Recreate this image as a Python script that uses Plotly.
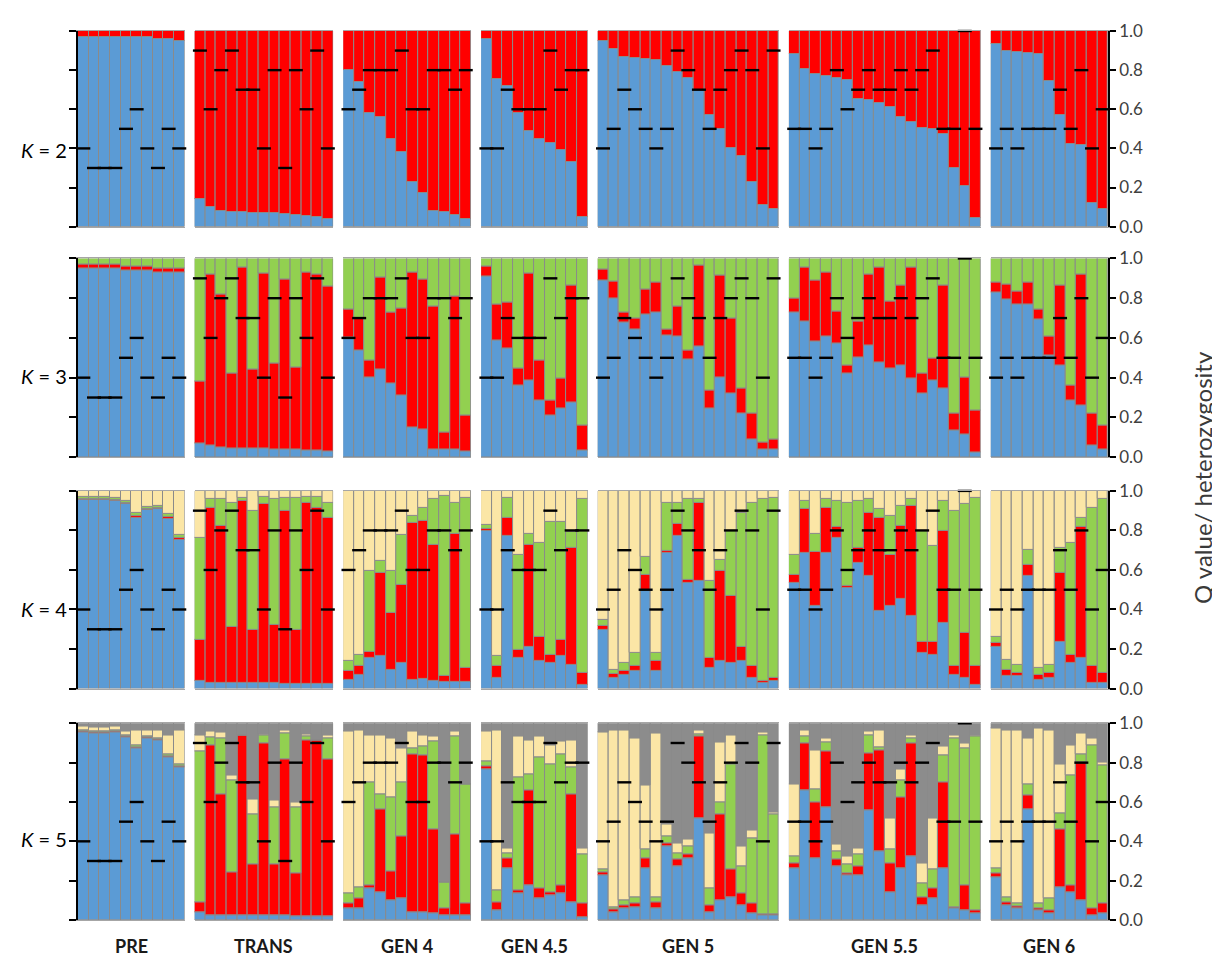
import plotly.graph_objects as go

# ---------------- data ----------------
groups = ["PRE", "TRANS", "GEN 4", "GEN 4.5", "GEN 5", "GEN 5.5", "GEN 6"]
sizes = [10, 13, 12, 10, 17, 18, 11]
k_labels = ["2", "3", "4", "5"]

# heterozygosity of each individual (black dashes)
het = [
    0.4, 0.3, 0.3, 0.3, 0.5, 0.6, 0.4, 0.3, 0.5, 0.4,
    0.9, 0.6, 0.8, 0.9, 0.7, 0.7, 0.4, 0.8, 0.3, 0.8, 0.6, 0.9, 0.4,
    0.6, 0.7, 0.8, 0.8, 0.8, 0.9, 0.6, 0.6, 0.8, 0.8, 0.7, 0.8,
    0.4, 0.4, 0.7, 0.6, 0.6, 0.6, 0.9, 0.7, 0.8, 0.8,
    0.4, 0.5, 0.7, 0.6, 0.5, 0.4, 0.5, 0.9, 0.8, 0.7, 0.5, 0.7, 0.8, 0.9, 0.8, 0.4, 0.9,
    0.5, 0.5, 0.4, 0.5, 0.8, 0.6, 0.7, 0.8, 0.7, 0.7, 0.8, 0.7, 0.8, 0.9, 0.5, 0.5, 1.0, 0.5,
    0.4, 0.5, 0.4, 0.5, 0.5, 0.5, 0.7, 0.5, 0.8, 0.4, 0.6,
]

# cumulative Q tops, clusters stacked bottom->top
# K = 2 : blue | red
k2_blue = [
    0.97, 0.97, 0.97, 0.97, 0.97, 0.97, 0.97, 0.96, 0.96, 0.95,
    0.14, 0.10, 0.08, 0.075, 0.075, 0.07, 0.07, 0.07, 0.065, 0.06, 0.055, 0.05, 0.04,
    0.80, 0.74, 0.58, 0.56, 0.45, 0.38, 0.23, 0.17, 0.08, 0.075, 0.06, 0.04,
    0.96, 0.755, 0.72, 0.58, 0.49, 0.45, 0.43, 0.39, 0.33, 0.05,
    0.95, 0.91, 0.865, 0.86, 0.855, 0.85, 0.82, 0.79, 0.76, 0.695, 0.57, 0.50, 0.40, 0.36, 0.23, 0.11, 0.09,
    0.88, 0.805, 0.78, 0.77, 0.76, 0.75, 0.65, 0.645, 0.63, 0.61, 0.56, 0.535, 0.505, 0.50, 0.475, 0.30, 0.21, 0.045,
    0.935, 0.90, 0.895, 0.89, 0.88, 0.745, 0.57, 0.425, 0.415, 0.12, 0.09,
]

# K = 3 : blue | red | green
k3_blue = [
    0.95, 0.95, 0.95, 0.95, 0.94, 0.94, 0.94, 0.93, 0.93, 0.93,
    0.07, 0.06, 0.05, 0.045, 0.045, 0.045, 0.045, 0.04, 0.04, 0.04, 0.035, 0.035, 0.03,
    0.60, 0.535, 0.40, 0.44, 0.37, 0.31, 0.15, 0.14, 0.04, 0.04, 0.04, 0.03,
    0.91, 0.585, 0.545, 0.36, 0.385, 0.285, 0.21, 0.245, 0.275, 0.035,
    0.89, 0.80, 0.68, 0.645, 0.72, 0.73, 0.61, 0.605, 0.49, 0.555, 0.245, 0.40, 0.32, 0.22, 0.09, 0.04, 0.04,
    0.73, 0.685, 0.58, 0.605, 0.57, 0.42, 0.50, 0.56, 0.475, 0.445, 0.46, 0.395, 0.32, 0.385, 0.345, 0.135, 0.115, 0.025,
    0.83, 0.795, 0.77, 0.77, 0.695, 0.51, 0.46, 0.285, 0.26, 0.06, 0.04,
]
k3_red = [
    0.97, 0.97, 0.97, 0.97, 0.96, 0.96, 0.96, 0.95, 0.95, 0.95,
    0.38, 0.92, 0.82, 0.42, 0.955, 0.44, 0.925, 0.47, 0.895, 0.45, 0.93, 0.92, 0.86,
    0.745, 0.70, 0.485, 0.905, 0.73, 0.75, 0.93, 0.895, 0.76, 0.125, 0.81, 0.21,
    0.96, 0.77, 0.78, 0.445, 0.925, 0.485, 0.285, 0.395, 0.865, 0.16,
    0.945, 0.885, 0.73, 0.70, 0.845, 0.88, 0.645, 0.76, 0.535, 0.965, 0.335, 0.915, 0.70, 0.345, 0.22, 0.075, 0.09,
    0.80, 0.955, 0.89, 0.93, 0.735, 0.46, 0.685, 0.92, 0.955, 0.785, 0.865, 0.955, 0.42, 0.495, 0.865, 0.22, 0.40, 0.235,
    0.88, 0.87, 0.835, 0.88, 0.745, 0.605, 0.865, 0.36, 0.92, 0.22, 0.16,
]

# K = 4 : blue | red | green | cream
k4_blue = [
    0.955, 0.955, 0.955, 0.95, 0.935, 0.865, 0.905, 0.91, 0.86, 0.75,
    0.04, 0.03, 0.03, 0.03, 0.03, 0.03, 0.03, 0.03, 0.025, 0.025, 0.025, 0.025, 0.025,
    0.045, 0.07, 0.155, 0.165, 0.095, 0.13, 0.045, 0.05, 0.04, 0.035, 0.035, 0.035,
    0.80, 0.055, 0.77, 0.155, 0.21, 0.14, 0.13, 0.165, 0.12, 0.02,
    0.295, 0.055, 0.07, 0.09, 0.495, 0.09, 0.685, 0.77, 0.535, 0.545, 0.105, 0.14, 0.13, 0.14, 0.055, 0.03, 0.04,
    0.535, 0.685, 0.42, 0.685, 0.76, 0.51, 0.635, 0.57, 0.395, 0.42, 0.455, 0.37, 0.18, 0.17, 0.33, 0.07, 0.055, 0.02,
    0.21, 0.065, 0.065, 0.57, 0.045, 0.055, 0.235, 0.13, 0.155, 0.03, 0.03,
]
k4_red = [
    0.96, 0.96, 0.96, 0.955, 0.94, 0.875, 0.91, 0.915, 0.87, 0.76,
    0.245, 0.915, 0.825, 0.31, 0.95, 0.295, 0.935, 0.32, 0.90, 0.295, 0.94, 0.915, 0.865,
    0.09, 0.115, 0.185, 0.585, 0.385, 0.525, 0.84, 0.85, 0.725, 0.065, 0.785, 0.105,
    0.81, 0.115, 0.865, 0.195, 0.725, 0.26, 0.17, 0.245, 0.71, 0.08,
    0.315, 0.075, 0.09, 0.115, 0.575, 0.14, 0.695, 0.835, 0.55, 0.94, 0.155, 0.595, 0.47, 0.21, 0.115, 0.04, 0.055,
    0.575, 0.91, 0.69, 0.915, 0.82, 0.52, 0.71, 0.89, 0.865, 0.675, 0.825, 0.925, 0.235, 0.235, 0.80, 0.115, 0.28, 0.115,
    0.23, 0.095, 0.08, 0.625, 0.07, 0.08, 0.585, 0.17, 0.82, 0.115, 0.08,
]
k4_green = [
    0.97, 0.97, 0.97, 0.965, 0.95, 0.89, 0.92, 0.925, 0.885, 0.775,
    0.76, 0.96, 0.96, 0.94, 0.965, 0.90, 0.97, 0.96, 0.965, 0.965, 0.97, 0.97, 0.94,
    0.14, 0.17, 0.595, 0.645, 0.595, 0.775, 0.875, 0.915, 0.96, 0.975, 0.94, 0.965,
    0.83, 0.165, 0.965, 0.675, 0.785, 0.735, 0.845, 0.845, 0.795, 0.96,
    0.345, 0.095, 0.13, 0.18, 0.665, 0.18, 0.94, 0.94, 0.96, 0.96, 0.545, 0.65, 0.80, 0.89, 0.94, 0.96, 0.965,
    0.675, 0.95, 0.785, 0.96, 0.95, 0.94, 0.95, 0.96, 0.91, 0.875, 0.925, 0.96, 0.80, 0.72, 0.95, 0.90, 0.935, 0.965,
    0.26, 0.145, 0.12, 0.70, 0.105, 0.12, 0.71, 0.735, 0.865, 0.915, 0.96,
]

# K = 5 : blue | red | green | cream | grey
k5_blue = [
    0.955, 0.95, 0.95, 0.955, 0.93, 0.875, 0.925, 0.915, 0.825, 0.775,
    0.04, 0.025, 0.025, 0.025, 0.025, 0.025, 0.025, 0.025, 0.025, 0.02, 0.02, 0.02, 0.02,
    0.06, 0.06, 0.16, 0.14, 0.10, 0.11, 0.04, 0.04, 0.035, 0.025, 0.025, 0.025,
    0.765, 0.05, 0.265, 0.135, 0.175, 0.11, 0.125, 0.135, 0.09, 0.015,
    0.225, 0.04, 0.06, 0.065, 0.265, 0.06, 0.375, 0.275, 0.315, 0.515, 0.04, 0.10, 0.115, 0.075, 0.035, 0.025, 0.025,
    0.265, 0.66, 0.315, 0.575, 0.275, 0.225, 0.225, 0.56, 0.35, 0.14, 0.265, 0.325, 0.075, 0.11, 0.265, 0.06, 0.05, 0.035,
    0.215, 0.075, 0.06, 0.565, 0.05, 0.035, 0.165, 0.14, 0.10, 0.025, 0.035,
]
k5_red = [
    0.96, 0.955, 0.955, 0.96, 0.935, 0.88, 0.93, 0.92, 0.83, 0.78,
    0.09, 0.89, 0.64, 0.24, 0.94, 0.285, 0.90, 0.285, 0.815, 0.235, 0.915, 0.915, 0.815,
    0.085, 0.11, 0.175, 0.565, 0.25, 0.425, 0.84, 0.835, 0.46, 0.06, 0.435, 0.085,
    0.78, 0.09, 0.315, 0.15, 0.66, 0.16, 0.14, 0.175, 0.64, 0.085,
    0.24, 0.055, 0.075, 0.085, 0.315, 0.09, 0.39, 0.31, 0.335, 0.935, 0.075, 0.535, 0.26, 0.135, 0.085, 0.03, 0.03,
    0.29, 0.90, 0.60, 0.86, 0.31, 0.235, 0.275, 0.85, 0.865, 0.29, 0.625, 0.90, 0.115, 0.16, 0.70, 0.065, 0.175, 0.05,
    0.235, 0.09, 0.07, 0.635, 0.06, 0.05, 0.46, 0.175, 0.80, 0.06, 0.085,
]
k5_green = [
    0.965, 0.96, 0.96, 0.965, 0.94, 0.89, 0.935, 0.925, 0.84, 0.79,
    0.86, 0.93, 0.925, 0.71, 0.94, 0.535, 0.94, 0.575, 0.95, 0.575, 0.935, 0.915, 0.925,
    0.135, 0.165, 0.70, 0.64, 0.625, 0.70, 0.875, 0.885, 0.91, 0.19, 0.935, 0.69,
    0.805, 0.15, 0.34, 0.725, 0.74, 0.825, 0.79, 0.84, 0.775, 0.335,
    0.26, 0.065, 0.10, 0.115, 0.36, 0.115, 0.425, 0.34, 0.375, 0.945, 0.16, 0.60, 0.79, 0.275, 0.415, 0.94, 0.535,
    0.325, 0.935, 0.665, 0.905, 0.35, 0.285, 0.335, 0.94, 0.88, 0.36, 0.71, 0.925, 0.185, 0.26, 0.835, 0.925, 0.875, 0.935,
    0.265, 0.115, 0.085, 0.69, 0.085, 0.11, 0.54, 0.735, 0.84, 0.89, 0.785,
]
k5_cream = [
    0.985, 0.98, 0.98, 0.985, 0.96, 0.965, 0.965, 0.965, 0.94, 0.965,
    0.94, 0.96, 0.955, 0.735, 0.94, 0.615, 0.945, 0.61, 0.965, 0.60, 0.945, 0.915, 0.94,
    0.96, 0.965, 0.94, 0.94, 0.925, 0.875, 0.96, 0.94, 0.935, 0.19, 0.96, 0.69,
    0.96, 0.965, 0.365, 0.935, 0.915, 0.935, 0.89, 0.91, 0.915, 0.365,
    0.955, 0.965, 0.965, 0.925, 0.685, 0.95, 0.485, 0.39, 0.41, 0.965, 0.44, 0.905, 0.94, 0.375, 0.455, 0.955, 0.55,
    0.69, 0.965, 0.865, 0.925, 0.385, 0.325, 0.365, 0.96, 0.965, 0.515, 0.765, 0.94, 0.29, 0.515, 0.885, 0.94, 0.90, 0.94,
    0.975, 0.965, 0.965, 0.925, 0.975, 0.965, 0.79, 0.89, 0.95, 0.925, 0.80,
]

n_total = sum(sizes)
for arr in [het, k2_blue, k3_blue, k3_red, k4_blue, k4_red, k4_green,
            k5_blue, k5_red, k5_green, k5_cream]:
    assert len(arr) == n_total, len(arr)

ones = [1.0] * n_total

BLUE, RED, GREEN, CREAM, GREY = "#5b9bd5", "#ff0000", "#92d050", "#fbe6a6", "#8c8c8c"
row_layers = [
    [(k2_blue, BLUE), (ones, RED)],
    [(k3_blue, BLUE), (k3_red, RED), (ones, GREEN)],
    [(k4_blue, BLUE), (k4_red, RED), (k4_green, GREEN), (ones, CREAM)],
    [(k5_blue, BLUE), (k5_red, RED), (k5_green, GREEN), (k5_cream, CREAM), (ones, GREY)],
]

# ---------------- layout geometry (pixels of the 1220x963 page) ----------------
OFF = 8                      # default body margin of the html page
W, H = 1220 - OFF, 963 - OFF  # figure size so it fits the window exactly
X0, X1 = 78, 1108            # plot-area left/right in page pixels
Y0, Y1 = 25, 920             # plot-area top/bottom in page pixels
L = X0 - OFF
R = (W + OFF) - X1
T = Y0 - OFF
B = (H + OFF) - Y1
PW, PH = X1 - X0, Y1 - Y0
gap = 10.0
pitch = (PW - gap * (len(sizes) - 1)) / n_total
row_top = [25, 254, 488, 722]
row_bot = [222, 454, 687, 920]


def fx(px):
    return (px - X0) / PW


def fy(py):
    return (Y1 - py) / PH


col_dom = []
cur = X0
for s in sizes:
    col_dom.append((max(0.0, fx(cur)), min(1.0, fx(cur + s * pitch))))
    cur = cur + s * pitch + gap

fig = go.Figure()
layout_axes = {}
FONT = "Lato, 'Open Sans', Arial, sans-serif"

offsets = [sum(sizes[:i]) for i in range(len(sizes))]

for r in range(4):
    for c in range(7):
        n = r * 7 + c + 1
        xa = "x" if n == 1 else f"x{n}"
        ya = "y" if n == 1 else f"y{n}"
        o, s = offsets[c], sizes[c]
        xs = list(range(s))
        prev = [0.0] * s
        for tops, col in row_layers[r]:
            seg = tops[o:o + s]
            heights = [max(t - p, 0.0) for t, p in zip(seg, prev)]
            fig.add_trace(go.Bar(
                x=xs, y=heights, base=prev, width=1.0,
                marker=dict(color=col, line=dict(color="#8a8a8a", width=1)),
                xaxis=xa, yaxis=ya, showlegend=False, hoverinfo="skip"))
            prev = [max(t, p) for t, p in zip(seg, prev)]
        fig.add_trace(go.Scatter(
            x=xs, y=het[o:o + s], mode="markers",
            marker=dict(symbol="line-ew", size=10,
                        line=dict(color="black", width=2.4)),
            xaxis=xa, yaxis=ya, showlegend=False, hoverinfo="skip",
            cliponaxis=False))

        kx = "xaxis" if n == 1 else f"xaxis{n}"
        ky = "yaxis" if n == 1 else f"yaxis{n}"
        layout_axes[kx] = dict(
            domain=list(col_dom[c]), anchor=ya, range=[-0.5, s - 0.5],
            showticklabels=False, ticks="", showgrid=False, zeroline=False,
            showline=True, mirror=True, linecolor="#a6a6a6", linewidth=1,
            fixedrange=True)
        yd = dict(
            domain=[fy(row_bot[r]), fy(row_top[r])], anchor=xa, range=[0, 1],
            showgrid=False, zeroline=False, fixedrange=True,
            tickvals=[0, 0.2, 0.4, 0.6, 0.8, 1.0])
        if c == 0:
            yd.update(showline=True, linecolor="black", linewidth=1.5,
                      ticks="outside", ticklen=7, tickcolor="black",
                      tickwidth=1.5, showticklabels=False, side="left")
        elif c == 6:
            yd.update(showline=True, linecolor="black", linewidth=1.5,
                      ticks="outside", ticklen=6, tickcolor="black",
                      tickwidth=1.5, showticklabels=True, side="right",
                      tickformat=".1f",
                      tickfont=dict(family=FONT, size=17, color="#404040"))
        else:
            yd.update(showline=False, ticks="", showticklabels=False)
        layout_axes[ky] = yd

annotations = []
label_y = [145, 372, 607, 838]
for r in range(4):
    annotations.append(dict(
        text=f"<i>K</i> = {k_labels[r]}", xref="paper", yref="paper",
        x=fx(69), y=fy(label_y[r]), xanchor="right", yanchor="middle",
        showarrow=False, font=dict(family=FONT, size=20, color="black")))
for c in range(7):
    annotations.append(dict(
        text=f"<b>{groups[c]}</b>", xref="paper", yref="paper",
        x=(col_dom[c][0] + col_dom[c][1]) / 2, y=fy(946),
        xanchor="center", yanchor="middle", showarrow=False,
        font=dict(family=FONT, size=18, color="#1a1a1a")))
annotations.append(dict(
    text="Q value/ heterozygosity", xref="paper", yref="paper",
    x=fx(1203), y=fy(475), xanchor="center", yanchor="middle",
    textangle=-90, showarrow=False,
    font=dict(family=FONT, size=24, color="#3a3a3a")))

fig.update_layout(
    width=W, height=H, margin=dict(l=L, r=R, t=T, b=B),
    paper_bgcolor="white", plot_bgcolor="white",
    barmode="overlay", bargap=0, showlegend=False,
    annotations=annotations, **layout_axes)

fig.write_html("out.html")
